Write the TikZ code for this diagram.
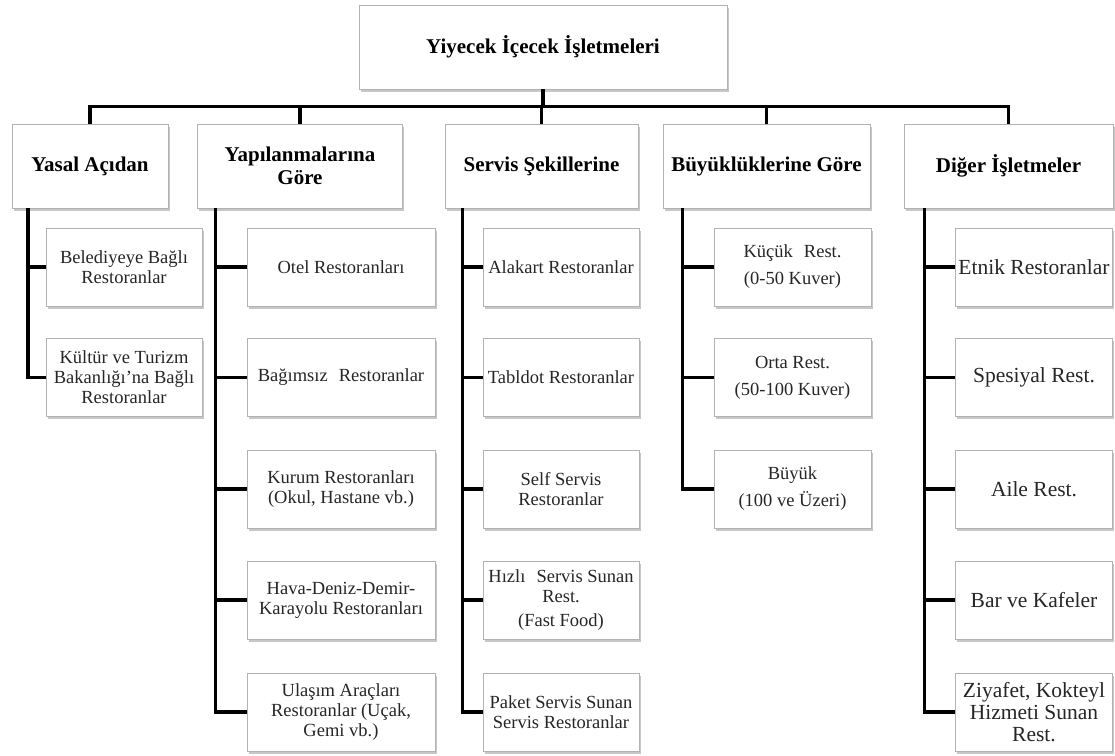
\documentclass[tikz,border=0pt]{standalone}
\usepackage{fontspec}
\setmainfont{Liberation Serif}
\usetikzlibrary{shadows}
\tikzset{
  box/.style={draw=gray!60, line width=0.8pt, fill=white, align=center, inner sep=2pt,
    drop shadow={shadow xshift=1.5pt, shadow yshift=-2.5pt, fill=gray!80, opacity=0.55}},
  topbox/.style={box, minimum width=368pt, minimum height=84pt,
    font=\bfseries\fontsize{21}{23}\selectfont},
  headbox/.style={box, minimum height=84pt, font=\bfseries\fontsize{21}{23}\selectfont},
  leaf/.style={box, minimum height=78pt, font=\fontsize{18.5}{20}\selectfont, text=black!85},
  leafwide/.style={leaf, font=\fontsize{21.5}{22}\selectfont},
  conn/.style={line width=3.6pt, black}
}
\begin{document}
\begin{tikzpicture}[x=1pt, y=-1pt]
\useasboundingbox (0,0) rectangle (1115,755);

% root
\node[topbox] (top) at (543,47) {Yiyecek İçecek İşletmeleri};

% category headers
\node[headbox, minimum width=156pt] (h1) at (90,166)    {Yasal Açıdan};
\node[headbox, minimum width=205pt] (h2) at (300,166)   {Yapılanmalarına\\Göre};
\node[headbox, minimum width=193pt] (h3) at (541.5,166) {Servis Şekillerine};
\node[headbox, minimum width=207pt] (h4) at (766.5,166) {Büyüklüklerine Göre};
\node[headbox, minimum width=209pt] (h5) at (1008.5,166){Diğer İşletmeler};

% legal status
\node[leaf, minimum width=156pt] (a1) at (124,267) {Belediyeye Bağlı\\Restoranlar};
\node[leaf, minimum width=156pt] (a2) at (124,377.5) {Kültür ve Turizm\\Bakanlığı'na Bağlı\\Restoranlar};

% organisation
\node[leaf, minimum width=188pt] (b1) at (341,267)   {Otel Restoranları};
\node[leaf, minimum width=188pt] (b2) at (341,377.5) {Bağımsız\hspace{0.6em}Restoranlar};
\node[leaf, minimum width=188pt] (b3) at (341,489)   {Kurum Restoranları\\(Okul, Hastane vb.)};
\node[leaf, minimum width=188pt] (b4) at (341,600)   {Hava-Deniz-Demir-\\Karayolu Restoranları};
\node[leaf, minimum width=188pt] (b5) at (341,712)   {Ulaşım Araçları\\Restoranlar (Uçak,\\Gemi vb.)};

% service style
\node[leaf, minimum width=156pt] (c1) at (561,267)   {Alakart Restoranlar};
\node[leaf, minimum width=156pt] (c2) at (561,377.5) {Tabldot Restoranlar};
\node[leaf, minimum width=156pt] (c3) at (561,489)   {Self Servis\\Restoranlar};
\node[leaf, minimum width=156pt] (c4) at (561,600)   {Hızlı\hspace{0.6em}Servis Sunan\\Rest.\\[4pt](Fast Food)};
\node[leaf, minimum width=156pt] (c5) at (561,712)   {Paket Servis Sunan\\Servis Restoranlar};

% size
\node[leaf, minimum width=157pt] (d1) at (792.5,267)   {Küçük\hspace{0.6em}Rest.\\[7pt](0-50 Kuver)};
\node[leaf, minimum width=157pt] (d2) at (792.5,377.5) {Orta Rest.\\[7pt](50-100 Kuver)};
\node[leaf, minimum width=157pt] (d3) at (792.5,489)   {Büyük\\[7pt](100 ve Üzeri)};

% other businesses
\node[leafwide, minimum width=157pt] (e1) at (1034,267)   {Etnik Restoranlar};
\node[leafwide, minimum width=157pt] (e2) at (1034,377.5) {Spesiyal Rest.};
\node[leafwide, minimum width=157pt] (e3) at (1034,489)   {Aile Rest.};
\node[leafwide, minimum width=157pt] (e4) at (1034,600)   {Bar ve Kafeler};
\node[leafwide, minimum width=157pt] (e5) at (1034,712)   {Ziyafet, Kokteyl\\Hizmeti Sunan\\Rest.};

% root to headers
\foreach \h in {h1,h2,h3,h4,h5}
  \draw[conn] (top.south) -- ++(0,17) -| (\h.north);

% header trunks to leaves
\foreach \c in {a1,a2}
  \draw[conn] ([xshift=16.5pt]h1.south west) |- (\c.west);
\foreach \c in {b1,b2,b3,b4,b5}
  \draw[conn] ([xshift=18.5pt]h2.south west) |- (\c.west);
\foreach \c in {c1,c2,c3,c4,c5}
  \draw[conn] ([xshift=18pt]h3.south west) |- (\c.west);
\foreach \c in {d1,d2,d3}
  \draw[conn] ([xshift=20pt]h4.south west) |- (\c.west);
\foreach \c in {e1,e2,e3,e4,e5}
  \draw[conn] ([xshift=21pt]h5.south west) |- (\c.west);
\end{tikzpicture}
\end{document}
